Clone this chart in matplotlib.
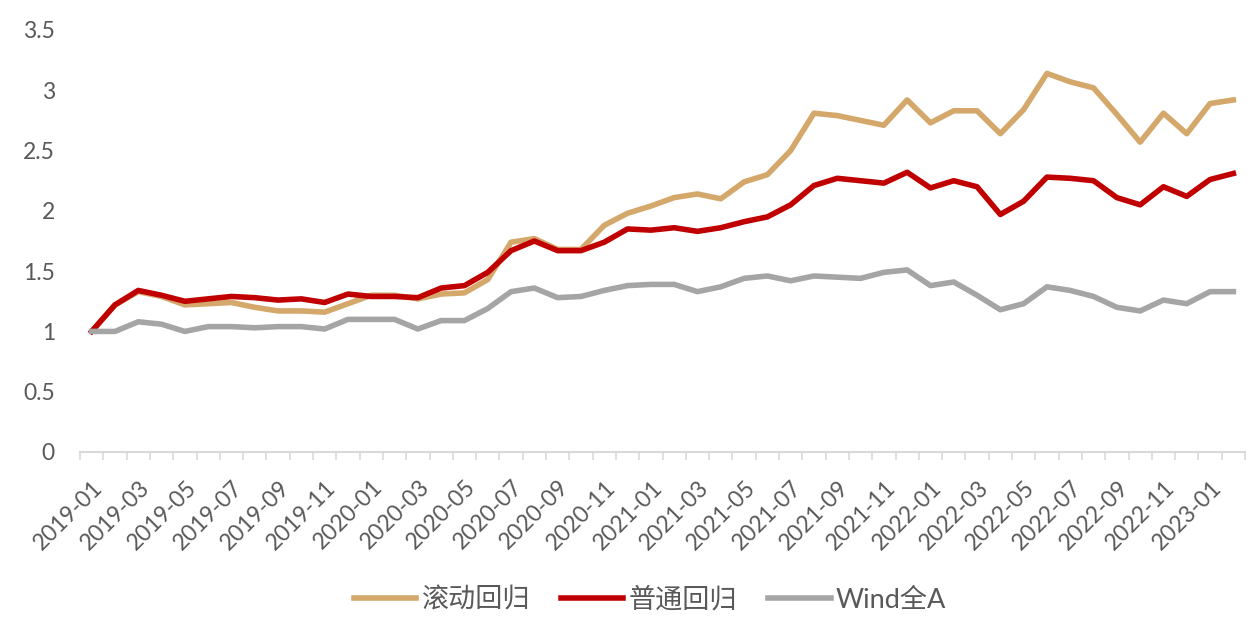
import matplotlib
matplotlib.use("Agg")
from matplotlib import pyplot as plt
from matplotlib import transforms
import numpy as np

plt.rcParams['font.family'] = ['Lato', 'Noto Sans CJK SC', 'DejaVu Sans']

# monthly 2019-01 .. 2023-02
months = []
for y in range(2019, 2024):
  for m in range(1, 13):
    months.append("%d-%02d" % (y, m))
months = months[:50]

rolling = [1.00, 1.22, 1.33, 1.29, 1.22, 1.23, 1.24, 1.20, 1.17, 1.17,
           1.16, 1.23, 1.30, 1.30, 1.27, 1.31, 1.32, 1.43, 1.74, 1.77,
           1.68, 1.68, 1.88, 1.98, 2.04, 2.11, 2.14, 2.10, 2.24, 2.30,
           2.50, 2.81, 2.79, 2.75, 2.71, 2.92, 2.73, 2.83, 2.83, 2.64,
           2.84, 3.14, 3.07, 3.02, 2.80, 2.57, 2.81, 2.64, 2.89, 2.92]
normal = [1.00, 1.22, 1.34, 1.30, 1.25, 1.27, 1.29, 1.28, 1.26, 1.27,
          1.24, 1.31, 1.29, 1.29, 1.28, 1.36, 1.38, 1.49, 1.67, 1.75,
          1.67, 1.67, 1.74, 1.85, 1.84, 1.86, 1.83, 1.86, 1.91, 1.95,
          2.05, 2.21, 2.27, 2.25, 2.23, 2.32, 2.19, 2.25, 2.20, 1.97,
          2.08, 2.28, 2.27, 2.25, 2.11, 2.05, 2.20, 2.12, 2.26, 2.31]
winda = [1.00, 1.00, 1.08, 1.06, 1.00, 1.04, 1.04, 1.03, 1.04, 1.04,
         1.02, 1.10, 1.10, 1.10, 1.02, 1.09, 1.09, 1.19, 1.33, 1.36,
         1.28, 1.29, 1.34, 1.38, 1.39, 1.39, 1.33, 1.37, 1.44, 1.46,
         1.42, 1.46, 1.45, 1.44, 1.49, 1.51, 1.38, 1.41, 1.30, 1.18,
         1.23, 1.37, 1.34, 1.29, 1.20, 1.17, 1.26, 1.23, 1.33, 1.33]

names = ['滚动回归', '普通回归', 'Wind全A']
colors = ['#D4A76A', '#C00000', '#A5A5A5']

fig = plt.figure(figsize=(12.57, 6.24), dpi=100)
ax = fig.add_axes([80/1257, (624-452)/624, 1165/1257, 422/624])

x = np.arange(len(months))
for s, n, c in zip([rolling, normal, winda], names, colors):
  ax.plot(x, s, color=c, lw=4, label=n, solid_joinstyle='round')

ax.set_xlim(-0.5, len(months) - 0.5)
ax.set_ylim(0, 3.5)
ax.set_yticks(np.arange(0, 3.51, 0.5))
ax.set_yticklabels(['0', '0.5', '1', '1.5', '2', '2.5', '3', '3.5'])

ax.set_xticks(x[::2])
ax.set_xticklabels(months[::2], rotation=45, ha='right', va='center',
                   rotation_mode='anchor')
ax.set_xticks(np.arange(-0.5, len(months), 1), minor=True)
ax.tick_params(axis='x', which='major', length=0, pad=23, labelsize=16.5,
               labelcolor='#595959')
ax.tick_params(axis='x', which='minor', length=6, color='#D9D9D9', width=1.2)
ax.tick_params(axis='y', length=0, pad=18, labelsize=16.5, labelcolor='#595959')

# nudge rotated labels a little to the right, like the original
shift = transforms.ScaledTranslation(8/100, 0, fig.dpi_scale_trans)
for lab in ax.get_xticklabels():
  lab.set_transform(lab.get_transform() + shift)

for sp in ['top', 'right', 'left']:
  ax.spines[sp].set_visible(False)
ax.spines['bottom'].set_color('#D9D9D9')
ax.spines['bottom'].set_linewidth(1.5)

leg = fig.legend(loc='center', bbox_to_anchor=(650/1257, 1 - 600/624), ncol=3,
                 frameon=False, fontsize=19.5, handlelength=2.3,
                 columnspacing=1.15, handletextpad=0.2)
for t in leg.get_texts():
  t.set_color('#595959')

fig.savefig('out.png', dpi=100)
